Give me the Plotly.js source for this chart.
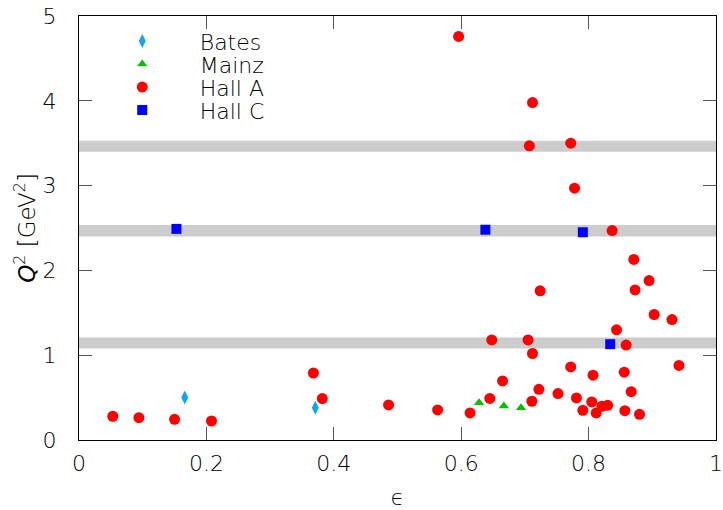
<!DOCTYPE html>
<html>
<head>
<meta charset="utf-8">
<script src="https://cdn.plot.ly/plotly-3.0.1.min.js"></script>
<style>html,body{margin:0;padding:0;background:#fff;}#plot{width:723px;height:510px;}</style>
</head>
<body>
<div id="plot"></div>
<script>
// Bates
const batesEps = [0.166, 0.371];
const batesQ2  = [0.50, 0.38];
// Mainz
const mainzEps = [0.628, 0.667, 0.694];
const mainzQ2  = [0.44, 0.40, 0.38];
// Hall A
const hallAEps = [0.053, 0.094, 0.150, 0.208, 0.368, 0.382, 0.486, 0.563, 0.614, 0.645, 0.665, 0.648,
                  0.705, 0.712, 0.711, 0.722, 0.724, 0.752, 0.772, 0.781, 0.791, 0.807, 0.805, 0.812,
                  0.821, 0.830, 0.844, 0.859, 0.856, 0.867, 0.857, 0.880, 0.871, 0.873, 0.895, 0.903,
                  0.931, 0.942, 0.596, 0.712, 0.707, 0.772, 0.778, 0.837];
const hallAQ2  = [0.28, 0.263, 0.244, 0.224, 0.79, 0.488, 0.413, 0.354, 0.319, 0.49, 0.697, 1.18,
                  1.18, 1.02, 0.457, 0.598, 1.76, 0.547, 0.862, 0.496, 0.35, 0.764, 0.449, 0.319,
                  0.398, 0.409, 1.30, 1.12, 0.80, 0.57, 0.346, 0.303, 2.13, 1.77, 1.88, 1.48,
                  1.42, 0.88, 4.76, 3.98, 3.47, 3.50, 2.97, 2.47];
// Hall C
const hallCEps = [0.153, 0.638, 0.791, 0.834];
const hallCQ2  = [2.49, 2.48, 2.45, 1.13];
// Grey Q^2 bands
const bandLow  = [1.08, 2.40, 3.40];
const bandHigh = [1.21, 2.535, 3.53];
// Axis ticks
const xTickVals = [0, 0.2, 0.4, 0.6, 0.8, 1];
const xTickText = ['0', '0.2', '0.4', '0.6', '0.8', '1'];
const yTickVals = [0, 1, 2, 3, 4, 5];
const yTickText = ['0', '1', '2', '3', '4', '5'];

const FONT = "'DejaVu Sans', sans-serif";
const TXT = '#000';
const W = 300;

const traces = [
  {x: batesEps, y: batesQ2, name: 'Bates', mode: 'markers', type: 'scatter',
   marker: {symbol: 'diamond-tall', size: 10, color: '#0ea5f5'}},
  {x: mainzEps, y: mainzQ2, name: 'Mainz', mode: 'markers', type: 'scatter',
   marker: {symbol: 'triangle-up', size: 9, color: '#00c000'}},
  {x: hallAEps, y: hallAQ2, name: 'Hall A', mode: 'markers', type: 'scatter',
   marker: {symbol: 'circle', size: 11, color: '#ff0000'}},
  {x: hallCEps, y: hallCQ2, name: 'Hall C', mode: 'markers', type: 'scatter',
   marker: {symbol: 'square', size: 10, color: '#0000ff'}}
];

const shapes = bandLow.map((lo, i) => ({
  type: 'rect', xref: 'paper', yref: 'y', x0: 0, x1: 1, y0: lo, y1: bandHigh[i],
  fillcolor: '#cccccc', line: {width: 0}, layer: 'below'
}));

const axisCommon = {
  showgrid: false, zeroline: false, showline: true, linecolor: '#000', linewidth: 1,
  mirror: 'ticks', ticks: 'inside', ticklen: 13, tickcolor: '#555', tickwidth: 1,
  ticklabeloverflow: 'allow',
  tickfont: {family: FONT, size: 22, color: TXT, weight: W}
};

const layout = {
  width: 723, height: 510,
  margin: {l: 79, r: 7, t: 16, b: 70},
  paper_bgcolor: '#fff', plot_bgcolor: '#fff',
  font: {family: FONT, color: TXT, weight: W},
  showlegend: true,
  legend: {x: 0.009, y: 0.99, xanchor: 'left', yanchor: 'top', bgcolor: 'rgba(0,0,0,0)',
           font: {family: FONT, size: 22, color: TXT, weight: W}, itemwidth: 105, tracegroupgap: 0},
  xaxis: Object.assign({}, axisCommon, {range: [0, 1.0001], tickvals: xTickVals, ticktext: xTickText,
    ticklabelstandoff: 4,
    title: {text: 'ϵ', font: {family: FONT, size: 22, color: TXT, weight: W}, standoff: 24}}),
  yaxis: Object.assign({}, axisCommon, {range: [0, 5.0005], tickvals: yTickVals, ticktext: yTickText,
    ticklabelstandoff: 17}),
  annotations: [{
    text: '<i>Q</i><sup>2</sup> [GeV<sup>2</sup>]', textangle: -90, showarrow: false,
    xref: 'paper', yref: 'paper', x: -0.085, y: 0.50, xanchor: 'center', yanchor: 'middle',
    font: {family: FONT, size: 23, color: TXT, weight: W}
  }],
  shapes: shapes
};

Plotly.newPlot('plot', traces, layout, {displayModeBar: false, staticPlot: true}).then(() => {
  // tighten legend line spacing to match the reference (23 px per entry)
  const items = document.querySelectorAll('.legend .traces');
  let y0 = null;
  items.forEach((g, i) => {
    const t = g.getAttribute('transform') || '';
    const m = t.match(/translate\(\s*([-\d.]+)[ ,]+([-\d.]+)\s*\)/);
    if (!m) return;
    const x = parseFloat(m[1]);
    if (y0 === null) y0 = parseFloat(m[2]);
    g.setAttribute('transform', 'translate(' + x + ',' + (y0 + i * 23) + ')');
  });
});
</script>
</body>
</html>
